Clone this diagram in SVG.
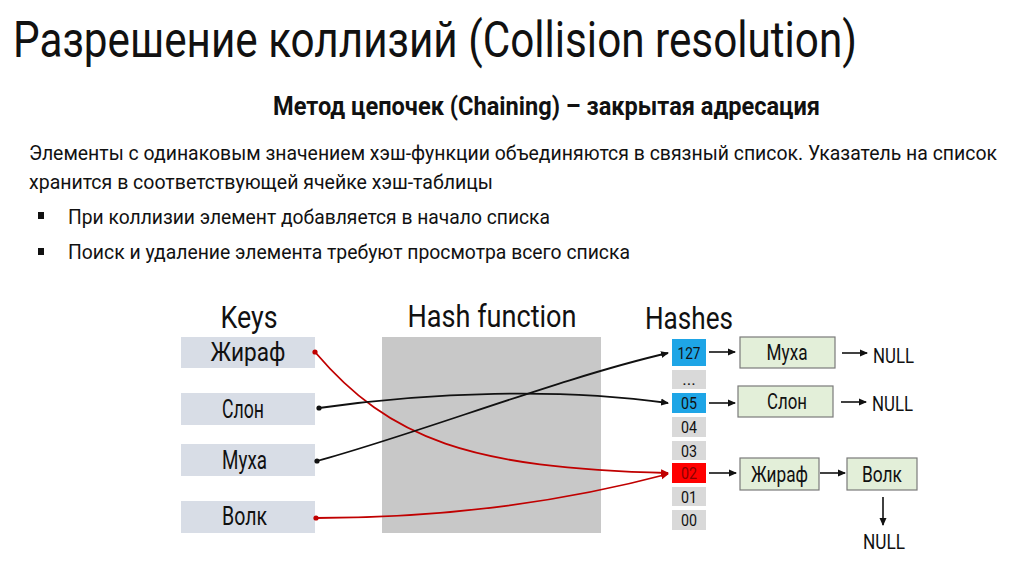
<svg xmlns="http://www.w3.org/2000/svg" width="1024" height="574" viewBox="0 0 1024 574">
<style>
text{font-family:Roboto,"Liberation Sans",sans-serif;fill:#111}
.t{font-size:50px}
.sub{font-size:25px;font-weight:bold}
.p{font-size:20px}
.h{font-size:31px;text-anchor:middle}
.k{font-size:25px;text-anchor:middle}
.c{font-size:17px;text-anchor:middle}
.l{font-size:22px;text-anchor:middle}
.n{font-size:21px}
.key{fill:#d8dde6}
.cell{fill:#d9d9d9}
.blue{fill:#1ea5e6}
.red{fill:#ff0000}
.box{fill:#e3efd9;stroke:#7a7a7a;stroke-width:1.2}
.bk{fill:none;stroke:#111;stroke-width:1.8}
.rd{fill:none;stroke:#c00000;stroke-width:1.8}
.ar{stroke:#111;stroke-width:1.6;fill:none}
</style>
<defs>
<marker id="ab" markerWidth="8" markerHeight="8" refX="7" refY="4" orient="auto" markerUnits="userSpaceOnUse"><path d="M0,0.5 L8,4 L0,7.5 Z" fill="#111"/></marker>
<marker id="ar" markerWidth="8" markerHeight="8" refX="7" refY="4" orient="auto" markerUnits="userSpaceOnUse"><path d="M0,0.5 L8,4 L0,7.5 Z" fill="#c00000"/></marker>
</defs>
<rect width="1024" height="574" fill="#fff"/>
<g id="header">
<text class="t" x="13" y="57" textLength="844" lengthAdjust="spacingAndGlyphs">Разрешение коллизий (Collision resolution)</text>
<text class="sub" x="273" y="115" textLength="547" lengthAdjust="spacingAndGlyphs">Метод цепочек (Chaining) – закрытая адресация</text>
<text class="p" x="29" y="160" textLength="968" lengthAdjust="spacingAndGlyphs">Элементы с одинаковым значением хэш-функции объединяются в связный список. Указатель на список</text>
<text class="p" x="29" y="189" textLength="464" lengthAdjust="spacingAndGlyphs">хранится в соответствующей ячейке хэш-таблицы</text>
<rect x="38" y="212" width="6" height="7" fill="#111"/>
<text class="p" x="68" y="224" textLength="482" lengthAdjust="spacingAndGlyphs">При коллизии элемент добавляется в начало списка</text>
<rect x="38" y="248" width="6" height="7" fill="#111"/>
<text class="p" x="68" y="259" textLength="562" lengthAdjust="spacingAndGlyphs">Поиск и удаление элемента требуют просмотра всего списка</text>
</g>
<g id="titles">
<text class="h" x="249" y="328" textLength="57" lengthAdjust="spacingAndGlyphs">Keys</text>
<text class="h" x="492" y="327" textLength="169" lengthAdjust="spacingAndGlyphs">Hash function</text>
<text class="h" x="689" y="329" textLength="88" lengthAdjust="spacingAndGlyphs">Hashes</text>
</g>
<g id="hashfn"><rect x="382" y="337" width="219" height="196" fill="#c8c8c8"/></g>
<g id="key-giraffe"><rect class="key" x="181" y="337" width="134" height="31"/><text class="k" x="248" y="361" textLength="75" lengthAdjust="spacingAndGlyphs">Жираф</text></g>
<g id="key-elephant"><rect class="key" x="181" y="393" width="134" height="32"/><text class="k" x="243" y="418" textLength="42" lengthAdjust="spacingAndGlyphs">Слон</text></g>
<g id="key-fly"><rect class="key" x="181" y="444" width="134" height="32"/><text class="k" x="244.5" y="469" textLength="45" lengthAdjust="spacingAndGlyphs">Муха</text></g>
<g id="key-wolf"><rect class="key" x="181" y="501" width="134" height="32"/><text class="k" x="244.5" y="525" textLength="45" lengthAdjust="spacingAndGlyphs">Волк</text></g>
<g id="cell-127"><rect class="blue" x="672" y="339" width="34" height="27"/><text class="c" x="689" y="359" textLength="23" lengthAdjust="spacingAndGlyphs">127</text></g>
<g id="cell-dots"><rect class="cell" x="672" y="370" width="34" height="19"/><text class="c" x="689" y="385">...</text></g>
<g id="cell-05"><rect class="blue" x="672" y="393" width="34" height="20"/><text class="c" x="689" y="409" textLength="16" lengthAdjust="spacingAndGlyphs">05</text></g>
<g id="cell-04"><rect class="cell" x="672" y="417" width="34" height="20"/><text class="c" x="689" y="433" textLength="16" lengthAdjust="spacingAndGlyphs">04</text></g>
<g id="cell-03"><rect class="cell" x="672" y="441" width="34" height="19"/><text class="c" x="689" y="457" textLength="16" lengthAdjust="spacingAndGlyphs">03</text></g>
<g id="cell-02"><rect class="red" x="672" y="463" width="34" height="20"/><text class="c" x="689" y="479" textLength="16" lengthAdjust="spacingAndGlyphs" style="fill:#8a0000">02</text></g>
<g id="cell-01"><rect class="cell" x="672" y="487" width="34" height="19"/><text class="c" x="689" y="503" textLength="16" lengthAdjust="spacingAndGlyphs">01</text></g>
<g id="cell-00"><rect class="cell" x="672" y="510" width="34" height="20"/><text class="c" x="689" y="526" textLength="16" lengthAdjust="spacingAndGlyphs">00</text></g>
<g id="node-fly"><rect class="box" x="740" y="337" width="95" height="31"/><text class="l" x="787" y="360" textLength="41" lengthAdjust="spacingAndGlyphs">Муха</text></g>
<g id="node-elephant"><rect class="box" x="738" y="386" width="95" height="31"/><text class="l" x="787" y="409" textLength="40" lengthAdjust="spacingAndGlyphs">Слон</text></g>
<g id="node-giraffe"><rect class="box" x="740" y="458" width="79" height="32"/><text class="l" x="779.5" y="482" textLength="57" lengthAdjust="spacingAndGlyphs">Жираф</text></g>
<g id="node-wolf"><rect class="box" x="847" y="458" width="70" height="32"/><text class="l" x="882" y="482" textLength="40" lengthAdjust="spacingAndGlyphs">Волк</text></g>
<g id="nulls">
<text class="n" x="873" y="363" textLength="41" lengthAdjust="spacingAndGlyphs">NULL</text>
<text class="n" x="872" y="411" textLength="41" lengthAdjust="spacingAndGlyphs">NULL</text>
<text class="n" x="863" y="549" textLength="42" lengthAdjust="spacingAndGlyphs">NULL</text>
</g>
<g id="connectors">
<path class="rd" d="M315,352 C390,440 470,468 668,473" marker-end="url(#ar)"/>
<path class="bk" d="M319,408 C430,392 560,388 668,403" marker-end="url(#ab)"/>
<path class="bk" d="M317,461 C420,433 560,378 668,353" marker-end="url(#ab)"/>
<path class="rd" d="M316,518 C450,518 570,500 668,474" marker-end="url(#ar)"/>
<circle cx="315" cy="352" r="2.6" fill="#c00000"/>
<circle cx="319" cy="408" r="2.6" fill="#111"/>
<circle cx="317" cy="461" r="2.6" fill="#111"/>
<circle cx="316" cy="518" r="2.6" fill="#c00000"/>
<line class="ar" x1="709" y1="352" x2="735" y2="352" marker-end="url(#ab)"/>
<line class="ar" x1="709" y1="403" x2="735" y2="403" marker-end="url(#ab)"/>
<line class="ar" x1="709" y1="473" x2="736" y2="473" marker-end="url(#ab)"/>
<line class="ar" x1="842" y1="353" x2="867" y2="353" marker-end="url(#ab)"/>
<line class="ar" x1="841" y1="402" x2="866" y2="402" marker-end="url(#ab)"/>
<line class="ar" x1="820" y1="473" x2="845" y2="473" marker-end="url(#ab)"/>
<line class="ar" x1="883" y1="497" x2="883" y2="525" marker-end="url(#ab)"/>
</g>
</svg>
